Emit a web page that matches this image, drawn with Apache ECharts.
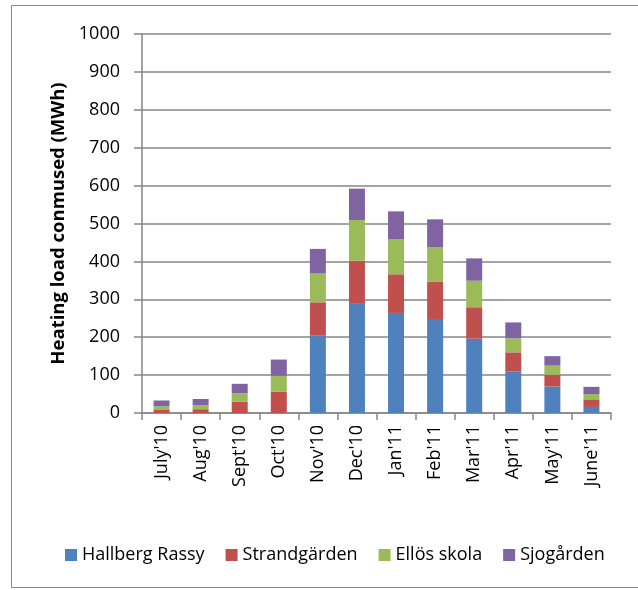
<!DOCTYPE html>
<html>
<head>
<meta charset="utf-8">
<script src="https://cdn.jsdelivr.net/npm/echarts@6/dist/echarts.min.js"></script>
<style>
html,body{margin:0;padding:0;background:#fff;}
#frame{position:absolute;left:11px;top:5px;width:640px;height:583px;border:1.5px solid #8a8a8a;box-sizing:border-box;}
#chart{position:absolute;left:0;top:0;width:638px;height:590px;}
</style>
</head>
<body>
<div id="frame"></div>
<div id="chart"></div>
<script>
var categories = ["July'10","Aug'10","Sept'10","Oct'10","Nov'10","Dec'10","Jan'11","Feb'11","Mar'11","Apr'11","May'11","June'11"];
var hallbergRassy = [0, 0, 0, 0, 205, 288, 264, 248, 196, 109, 70, 16];
var strandgarden  = [8, 10, 30, 56, 87, 114, 102, 99, 83, 51, 31, 20];
var ellosSkola    = [10, 10, 22, 42, 76, 107, 92, 90, 70, 37, 24, 14];
var sjogarden     = [15, 17, 25, 43, 65, 83, 74, 74, 59, 42, 25, 19];
var seriesNames = ["Hallberg Rassy","Strandgärden","Ellös skola","Sjogården"];
var yTicks = [0,100,200,300,400,500,600,700,800,900,1000];

var colors = ['#4F81BD','#C0504D','#9BBB59','#8064A2'];
var font = 'Open Sans';
var chart = echarts.init(document.getElementById('chart'), null, {renderer:'canvas'});
var data = [hallbergRassy, strandgarden, ellosSkola, sjogarden];
chart.setOption({
  animation:false,
  textStyle:{fontFamily:font},
  color: colors,
  grid:{left:142,right:27,top:34,bottom:177,containLabel:false},
  legend:{
    data: seriesNames,
    left:60, top:541,
    icon:'rect', itemWidth:12, itemHeight:12, itemGap:21, itemStyle:{borderWidth:0},
    textStyle:{fontFamily:font,fontSize:18,color:'#000'}
  },
  xAxis:{
    type:'category', data:categories,
    axisLine:{lineStyle:{color:'#868686',width:1.5}},
    axisTick:{show:true,length:7,lineStyle:{color:'#868686',width:1.5}},
    axisLabel:{rotate:90,fontSize:18,color:'#000',margin:12,fontFamily:font,interval:0}
  },
  yAxis:{
    type:'value', min:yTicks[0], max:yTicks[yTicks.length-1], interval:100,
    name:'Heating load conmused (MWh)', nameLocation:'middle', nameGap:73, nameRotate:90,
    nameTextStyle:{fontWeight:'bold',fontSize:18.5,color:'#000',fontFamily:font},
    axisLine:{show:true,lineStyle:{color:'#868686',width:1.5}},
    axisTick:{show:true,length:8,lineStyle:{color:'#868686',width:1.5}},
    axisLabel:{fontSize:18,color:'#000',margin:22,fontFamily:font,formatter:function(v){return String(v);}},
    splitLine:{lineStyle:{color:'#868686',width:1.5}}
  },
  series: seriesNames.map(function(n,i){
    return {name:n,type:'bar',stack:'total',data:data[i],barWidth:16,
      itemStyle:{color:colors[i]}};
  })
});
</script>
</body>
</html>
